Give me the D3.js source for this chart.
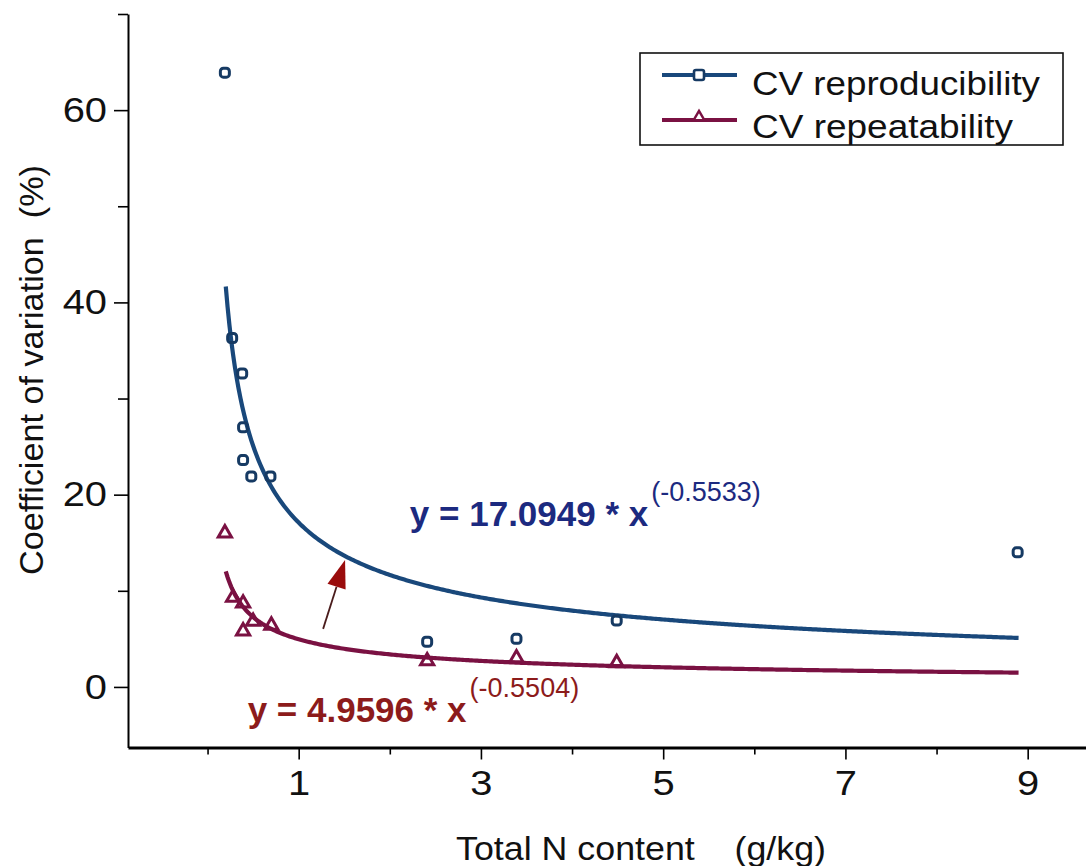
<!DOCTYPE html>
<html><head><meta charset="utf-8">
<script src="https://cdn.jsdelivr.net/npm/d3@7"></script>
<style>
body{margin:0;background:#fff}
text{font-family:"Liberation Sans",Arial,Helvetica,sans-serif}
</style>
</head><body>
<svg id="chart" width="1086" height="866"></svg>
<script>
// ---- data ----
const reproX = [0.19, 0.27, 0.38, 0.39, 0.39, 0.48, 0.69, 2.41, 3.39, 4.49, 8.89];
const reproY = [63.9, 36.3, 32.6, 27.0, 23.6, 21.9, 21.9, 4.7, 5.0, 6.9, 14.0];
const repeatX = [0.19, 0.28, 0.39, 0.39, 0.50, 0.70, 2.41, 3.39, 4.49];
const repeatY = [16.0, 9.3, 8.7, 5.8, 6.8, 6.4, 2.7, 3.0, 2.5];
const reproFit = [17.0949, -0.5533];
const repeatFit = [4.9596, -0.5504];
const fitRange = [0.2, 8.9];
const xMajorTicks = [1, 3, 5, 7, 9];
const xMinorTicks = [0, 2, 4, 6, 8];
const yMajorTicks = [0, 20, 40, 60];
const yMinorTicks = [10, 30, 50, 70];
const seriesNames = ["CV reproducibility", "CV repeatability"];
const eqTexts = ["y = 17.0949 * x", "y = 4.9596 * x"];
const eqExps = ["(-0.5533)", "(-0.5504)"];
const eqAnchors = [[2.22, 16.7], [0.44, -3.65]]; // data coords of equation labels
const arrowFrom = [1.268, 6.04];
const arrowTo = [1.509, 13.2];

const BLUE = "#19487b", BLUE_M = "#163a63", RED = "#7a1142", RED_M = "#7a1142";

const svg = d3.select("#chart");
const x = d3.scaleLinear().domain([-0.873, 9.64]).range([128, 1086]);
const y = d3.scaleLinear().domain([-6.3, 70]).range([747.5, 14]);

function widen(sel, k){
  sel.each(function(){ const w=this.getComputedTextLength(); d3.select(this).attr("textLength", w*k).attr("lengthAdjust","spacingAndGlyphs"); });
}

// ---- axes ----
const yAxisMinor = svg.append("g").attr("transform", "translate(128,0)")
  .call(d3.axisLeft(y).tickValues(yMinorTicks).tickSize(10).tickFormat("").tickSizeOuter(0));
yAxisMinor.select(".domain").remove();
const yAxis = svg.append("g").attr("transform", "translate(128,0)")
  .call(d3.axisLeft(y).tickValues(yMajorTicks).tickSize(14).tickPadding(7).tickSizeOuter(0));
yAxis.select(".domain").attr("stroke-width", 2);
svg.selectAll("g .tick line").attr("stroke-width", 1.6);
yAxis.selectAll("text").attr("font-size", 35).attr("fill", "#111");
widen(yAxis.selectAll("text"), 1.14);

const xAxisMinor = svg.append("g").attr("transform", "translate(0,747.5)")
  .call(d3.axisBottom(x).tickValues(xMinorTicks).tickSize(7).tickFormat("").tickSizeOuter(0));
xAxisMinor.select(".domain").remove();
xAxisMinor.selectAll("line").attr("stroke-width", 1.6);
const xAxis = svg.append("g").attr("transform", "translate(0,747.5)")
  .call(d3.axisBottom(x).tickValues(xMajorTicks).tickSize(12).tickPadding(11).tickSizeOuter(0));
xAxis.select(".domain").attr("stroke-width", 3);
xAxis.selectAll("line").attr("stroke-width", 1.6);
xAxis.selectAll("text").attr("font-size", 35).attr("fill", "#111");
widen(xAxis.selectAll("text"), 1.14);

// axis titles
svg.append("text").attr("x", 641).attr("y", 860).attr("text-anchor", "middle")
  .attr("font-size", 34).attr("fill", "#111").style("white-space","pre")
  .attr("textLength", 370).attr("lengthAdjust", "spacingAndGlyphs")
  .text("Total N content    (g/kg)");
svg.append("text").attr("transform", "translate(43,370) rotate(-90)").attr("text-anchor", "middle")
  .attr("font-size", 34).attr("fill", "#111").style("white-space","pre")
  .attr("textLength", 410).attr("lengthAdjust", "spacingAndGlyphs")
  .text("Coefficient of variation  (%)");

// ---- fitted curves ----
const line = d3.line().x(d => x(d[0])).y(d => y(d[1]));
const xs = d3.range(fitRange[0], fitRange[1] + 1e-9, 0.02);
function fitPts(f){ return xs.map(v => [v, f[0] * Math.pow(v, f[1])]); }
svg.append("path").datum(fitPts(reproFit)).attr("d", line)
  .attr("fill", "none").attr("stroke", BLUE).attr("stroke-width", 4.2);
svg.append("path").datum(fitPts(repeatFit)).attr("d", line)
  .attr("fill", "none").attr("stroke", RED).attr("stroke-width", 4.2);

// ---- markers ----
svg.append("g").selectAll("rect").data(reproX.map((v,i)=>[v, reproY[i]])).join("rect")
  .attr("x", d => x(d[0]) - 4.5).attr("y", d => y(d[1]) - 4.5).attr("width", 9).attr("height", 9)
  .attr("rx", 3).attr("fill", "none").attr("stroke", BLUE_M).attr("stroke-width", 3);
const tri = d3.symbol().type(d3.symbolTriangle).size(75);
svg.append("g").selectAll("path").data(repeatX.map((v,i)=>[v, repeatY[i]])).join("path")
  .attr("d", tri).attr("transform", d => `translate(${x(d[0])},${y(d[1])})`)
  .attr("fill", "none").attr("stroke", RED_M).attr("stroke-width", 3);

// ---- arrow annotation ----
const ax0 = x(arrowFrom[0]), ay0 = y(arrowFrom[1]), ax1 = x(arrowTo[0]), ay1 = y(arrowTo[1]);
const len = Math.hypot(ax1-ax0, ay1-ay0), ux = (ax1-ax0)/len, uy = (ay1-ay0)/len;
const hl = 28, hw = 9.5;
const bx = ax1 - ux*hl, by = ay1 - uy*hl;
svg.append("line").attr("x1", ax0).attr("y1", ay0).attr("x2", bx).attr("y2", by)
  .attr("stroke", "#4a1c1c").attr("stroke-width", 1.8);
svg.append("path").attr("d", `M${ax1},${ay1}L${bx - uy*hw},${by + ux*hw}L${bx + uy*hw},${by - ux*hw}Z`)
  .attr("fill", "#9a0c0c");

// ---- equations ----
const eqColors = ["#1c2a80", "#8c1b1b"];
eqTexts.forEach((t, i) => {
  const tx = svg.append("text").attr("x", x(eqAnchors[i][0])).attr("y", y(eqAnchors[i][1]))
    .attr("fill", eqColors[i]).attr("font-size", 35).attr("font-weight", "bold");
  tx.append("tspan").text(t);
  tx.append("tspan").attr("dx", 3).attr("dy", -25).attr("font-size", 27).attr("font-weight", "normal").text(eqExps[i]);
});

// ---- legend ----
const lg = svg.append("g");
lg.append("rect").attr("x", 640).attr("y", 53).attr("width", 423).attr("height", 92)
  .attr("fill", "#fff").attr("stroke", "#111").attr("stroke-width", 1.6);
const lrows = [75, 120];
const lcolors = [BLUE, RED];
seriesNames.forEach((n, i) => {
  lg.append("line").attr("x1", 662).attr("x2", 737).attr("y1", lrows[i]).attr("y2", lrows[i])
    .attr("stroke", lcolors[i]).attr("stroke-width", 4);
  if (i === 0) {
    lg.append("rect").attr("x", 694).attr("y", lrows[i]-5).attr("width", 10).attr("height", 10).attr("rx", 2)
      .attr("fill", "#fff").attr("stroke", BLUE_M).attr("stroke-width", 2.6);
  } else {
    lg.append("path").attr("d", d3.symbol().type(d3.symbolTriangle).size(50))
      .attr("transform", `translate(699,${lrows[i]-3})`)
      .attr("fill", "#fff").attr("stroke", RED_M).attr("stroke-width", 2.4);
  }
  lg.append("text").attr("x", 752).attr("y", [95, 138][i]).attr("font-size", 34).attr("fill", "#111")
    .attr("textLength", [288, 261][i]).attr("lengthAdjust", "spacingAndGlyphs").text(n);
});
</script>
</body></html>
